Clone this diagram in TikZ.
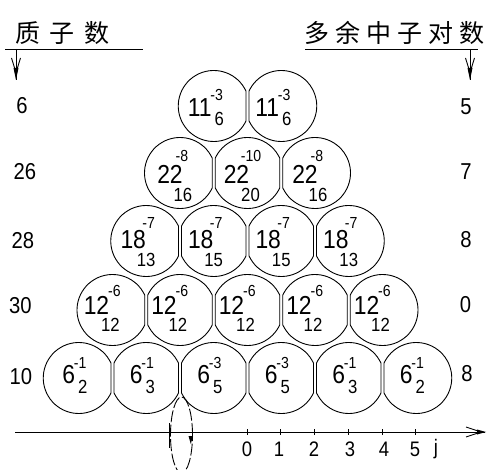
\documentclass[tikz,border=0pt]{standalone}
\usepackage{fontspec}
\setmainfont{Liberation Sans}[FakeStretch=0.88]
\newfontfamily\cjk{Noto Sans CJK SC}
\usetikzlibrary{calc}

\newcommand{\bA}{24.7}
% offsets per row
\newcommand{\mx}{0}\newcommand{\my}{0}
\newcommand{\sx}{0}\newcommand{\sy}{0}
\newcommand{\bx}{0}\newcommand{\by}{0}
\newcommand{\rowoff}[6]{\renewcommand{\mx}{#1}\renewcommand{\my}{#2}\renewcommand{\sx}{#3}\renewcommand{\sy}{#4}\renewcommand{\bx}{#5}\renewcommand{\by}{#6}}

% #1 name, #2 x, #3 y, #4 type (B,L,R), #5 main, #6 sup, #7 sub
\newcommand{\ball}[7]{%
  \coordinate (#1) at (#2,#3);
  \if#4B
    \draw[ballline] ($(#1)+(\bA:35.5pt)$) arc[start angle=\bA, end angle=180-\bA, radius=35.5pt]
      -- ($(#1)+(180+\bA:35.5pt)$) arc[start angle=180+\bA, end angle=360-\bA, radius=35.5pt] -- cycle;
  \fi
  \if#4L
    \draw[ballline] ($(#1)+(\bA:35.5pt)$) arc[start angle=\bA, end angle=360-\bA, radius=35.5pt] -- cycle;
  \fi
  \if#4R
    \draw[ballline] ($(#1)+(180+\bA:35.5pt)$) arc[start angle=180+\bA, end angle=540-\bA, radius=35.5pt] -- cycle;
  \fi
  \node[mainnum] (#1m) at ($(#1)+(\mx,\my)$) {#5};
  \node[supnum] (#1s) at ($(#1)+(\sx,\sy)$) {#6};
  \node[subnum] (#1b) at ($(#1)+(\bx,\by)$) {#7};
}

\tikzset{
  ballline/.style={line width=0.9pt, black},
  mainnum/.style={inner sep=0pt, font=\fontsize{26}{26}\selectfont},
  supnum/.style={inner sep=0pt, font=\fontsize{16}{16}\selectfont},
  subnum/.style={inner sep=0pt, font=\fontsize{19}{19}\selectfont},
  sidelbl/.style={inner sep=0pt, font=\fontsize{23}{23}\selectfont},
  axlbl/.style={inner sep=0pt, font=\fontsize{21}{21}\selectfont},
  hdr/.style={inner sep=0pt, anchor=base, font=\cjk\fontsize{25}{25}\selectfont},
  thin/.style={line width=0.9pt},
}

\begin{document}
\begin{tikzpicture}[x=1pt, y=-1pt]
\useasboundingbox (0,0) rectangle (490,470);

% headers
\node[hdr] (hl) at (62.5,43) {质\hspace{10pt}子\hspace{10pt}数};
\node[hdr] (hr) at (394,43) {多\hspace{6pt}余\hspace{6pt}中\hspace{6pt}子\hspace{6pt}对\hspace{6pt}数};
\coordinate (ul1) at (5,49); \coordinate (ul2) at (143,49);
\coordinate (ur1) at (305,49); \coordinate (ur2) at (478,49);
\draw[thin] (ul1) -- (ul2);
\draw[thin] (ur1) -- (ur2);
% down arrows
\foreach \ax/\nm in {16/al, 470/ar}{
  \coordinate (\nm0) at (\ax,49);
  \coordinate (\nm1) at (\ax,80);
  \draw[thin] (\nm0) -- (\nm1);
  \draw[thin] (\ax-4.5,58) -- (\ax-0.8,70);
  \draw[thin] (\ax+4.5,58) -- (\ax+0.8,70);
  \fill (\ax-2.5,68) -- (\ax+2.5,68) -- (\ax,80) -- cycle;
}

% side labels
\node[sidelbl] (l1) at (22,106) {6};
\node[sidelbl] (l2) at (25,172) {26};
\node[sidelbl] (l3) at (23,241) {28};
\node[sidelbl] (l4) at (20.5,306) {30};
\node[sidelbl] (l5) at (21,377) {10};
\node[sidelbl] (r1) at (466,107) {5};
\node[sidelbl] (r2) at (466,172) {7};
\node[sidelbl] (r3) at (466,240) {8};
\node[sidelbl] (r4) at (465.5,305) {0};
\node[sidelbl] (r5) at (467,374) {8};

% row 1
\rowoff{-14}{1.5}{3}{-11}{5.5}{12.5}
\ball{a1}{213.75}{106}{L}{11}{-3}{6}
\ball{a2}{281.25}{106}{R}{11}{-3}{6}
% row 2
\rowoff{-10}{1}{2}{-17}{3}{22}
\ball{b1}{180}{173}{L}{22}{-8}{16}
\rowoff{-11}{1}{3.5}{-17}{3}{22}
\ball{b2}{247.5}{173}{B}{22}{-10}{20}
\rowoff{-10}{1}{2}{-17}{3}{22}
\ball{b3}{315}{173}{R}{22}{-8}{16}
% row 3
\rowoff{-13}{-1}{2.5}{-18.5}{0}{19}
\ball{c1}{146.25}{241}{L}{18}{-7}{13}
\ball{c2}{213.75}{241}{B}{18}{-7}{15}
\ball{c3}{281.25}{241}{B}{18}{-7}{15}
\ball{c4}{348.75}{241}{R}{18}{-7}{13}
% row 4
\rowoff{-16}{-5}{2}{-19.5}{-2}{15}
\ball{d1}{112.5}{310}{L}{12}{-6}{12}
\ball{d2}{180}{310}{B}{12}{-6}{12}
\ball{d3}{247.5}{310}{B}{12}{-6}{12}
\ball{d4}{315}{310}{B}{12}{-6}{12}
\ball{d5}{382.5}{310}{R}{12}{-6}{12}
% row 5
\rowoff{-10}{-3}{1.5}{-15.5}{4}{9}
\ball{e1}{78.75}{378}{L}{6}{-1}{2}
\ball{e2}{146.25}{378}{B}{6}{-1}{3}
\ball{e3}{213.75}{378}{B}{6}{-3}{5}
\ball{e4}{281.25}{378}{B}{6}{-3}{5}
\ball{e5}{348.75}{378}{B}{6}{-1}{3}
\ball{e6}{416.25}{378}{R}{6}{-1}{2}

% axis
\coordinate (x0) at (15,432);
\coordinate (x1) at (485,432);
\draw[thin] (x0) -- (x1);
\draw[thin] (466,427) -- (479,431.3);
\draw[thin] (466,437) -- (479,432.7);
\fill (477,429.5) -- (477,434.5) -- (486,432) -- cycle;
\foreach \tx/\lab/\lx in {247/0/247, 280.5/1/279, 314/2/314, 348/3/350, 382/4/384, 415/5/415}{
  \draw[thin] (\tx,429) -- (\tx,435);
  \node[axlbl] at (\lx,449.5) {\lab};
}
\node[axlbl] (jj) at (436,449.5) {j};
\coordinate (tk0) at (169,423); \coordinate (tk1) at (169,448);
\draw[thin] (tk0) -- (tk1);
\coordinate (ec) at (181.5,435);
\draw[thin, dash pattern=on 12pt off 2.5pt] (ec) ellipse [x radius=11pt, y radius=38pt];
\fill (188.5,436) -- (193,436) -- (190.8,444) -- cycle;
\end{tikzpicture}
\end{document}
